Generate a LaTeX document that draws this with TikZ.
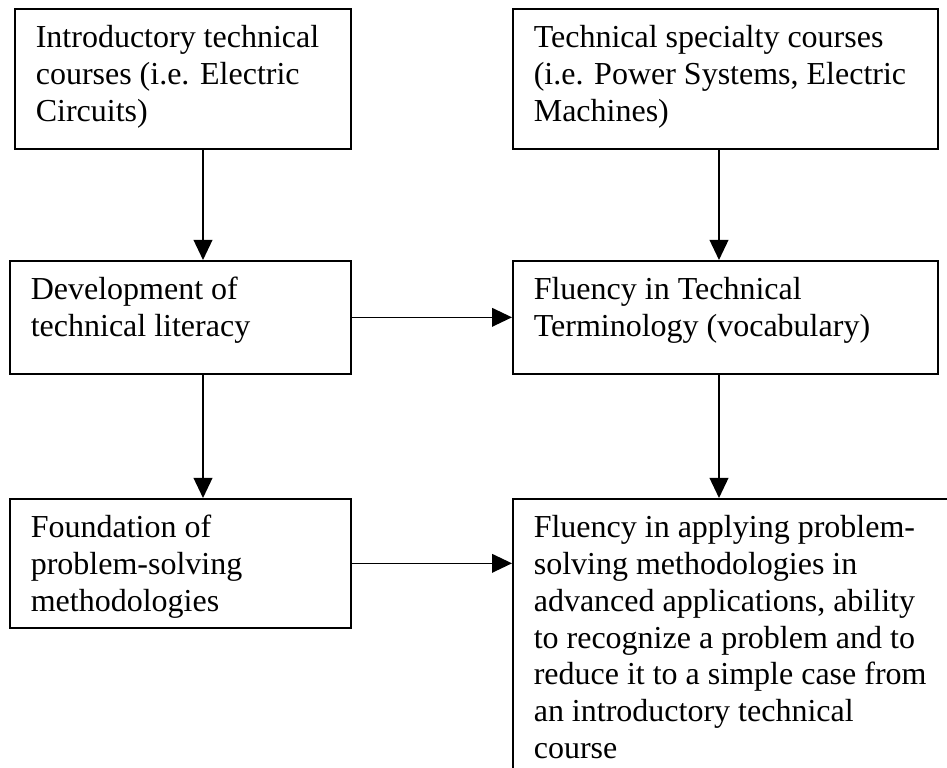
\documentclass[tikz,border=0pt]{standalone}
\usepackage{fontspec}
\setmainfont{Liberation Serif}
\usetikzlibrary{arrows.meta}
\newcommand\boxtxt[3]{\parbox[t][#2][t]{#1}{\leftskip=7.875pt\rightskip=0pt plus 1fil\parfillskip=0pt plus 1fil\rule{0pt}{14.6pt}#3}}
\tikzset{
  box/.style={draw, line width=0.6pt, inner sep=0pt, anchor=north west, font=\fontsize{12}{13.8}\selectfont},
  arr/.style={line width=0.6pt, -{Triangle[length=7.5pt,width=7pt]}}
}
\begin{document}
\begin{tikzpicture}[x=1pt,y=-1pt]
\useasboundingbox (0,0) rectangle (355.125,288);
\clip (0,0) rectangle (355.125,288);
\node[box] (b1) at (5.25,3) {\boxtxt{126pt}{52.5pt}{Introductory technical\\courses (i.e. Electric\\Circuits)}};
\node[box] (b2) at (192,3) {\boxtxt{159.4pt}{52.5pt}{Technical specialty courses\\(i.e. Power Systems, Electric\\Machines)}};
\node[box] (b3) at (3.375,97.5) {\boxtxt{128pt}{42.4pt}{Development of\\technical literacy}};
\node[box] (b4) at (192,97.5) {\boxtxt{159.4pt}{42.4pt}{Fluency in Technical\\Terminology (vocabulary)}};
\node[box] (b5) at (3.375,186.75) {\boxtxt{128pt}{48.4pt}{Foundation of\\problem-solving\\methodologies}};
\node[box] (b6) at (192,186.75) {\boxtxt{175pt}{115pt}{Fluency in applying problem-\\solving methodologies in\\advanced applications, ability\\to recognize a problem and to\\reduce it to a simple case from\\an introductory technical\\course}};
\coordinate (cl) at (76.125,0);
\coordinate (cr) at (269.625,0);
\draw[arr] (b1.south -| cl) -- (b3.north -| cl);
\draw[arr] (b3.south -| cl) -- (b5.north -| cl);
\draw[arr] (b2.south -| cr) -- (b4.north -| cr);
\draw[arr] (b4.south -| cr) -- (b6.north -| cr);
\draw[arr] (b3.east) -- (b4.west);
\draw[arr] (b5.east) -- (b6.west |- b5.east);
\end{tikzpicture}
\end{document}
